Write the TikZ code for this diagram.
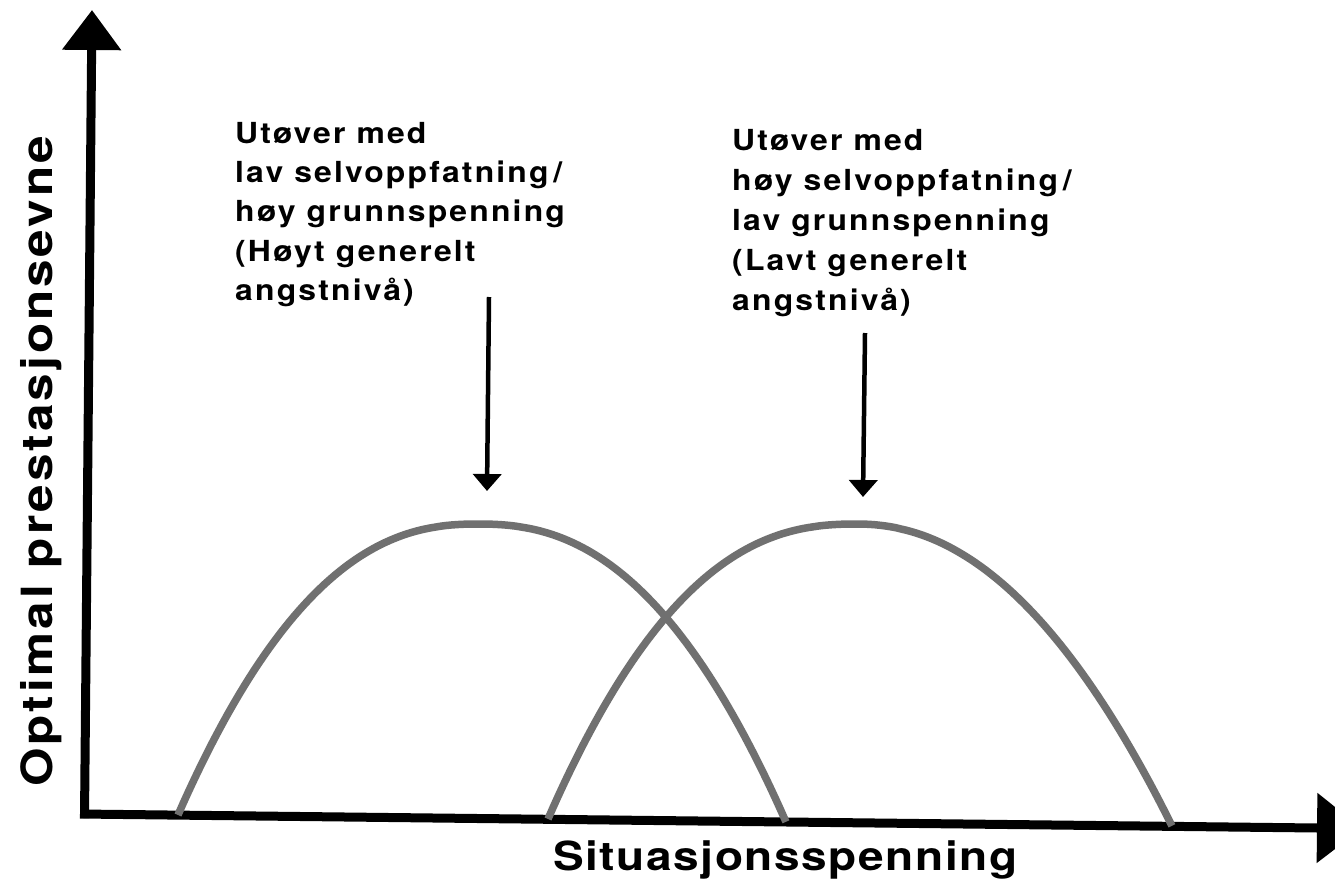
\documentclass[tikz,border=0pt]{standalone}
\usepackage{fontspec}
\usetikzlibrary{arrows.meta}
\newfontfamily\annfont[FakeStretch=1.1,LetterSpace=7.5]{TeX Gyre Heros}
\newfontfamily\axfont[FakeStretch=1.15,LetterSpace=7]{TeX Gyre Heros}
\newfontfamily\xfont[FakeStretch=1.15,LetterSpace=4]{TeX Gyre Heros}
\definecolor{curvegray}{RGB}{112,112,112}
\begin{document}
\begin{tikzpicture}[x=1pt,y=-1pt,
  axis/.style={line width=9pt},
  curve/.style={line width=7.5pt, draw=curvegray},
  pointer/.style={line width=4.5pt,-{Triangle[length=17pt 0 0,width=28pt 0 0]}},
  ann/.style={inner sep=0pt, align=left, anchor=north west},
  axlab/.style={inner sep=0pt},
]
\useasboundingbox (0,0) rectangle (1335,891);
\fill[white] (0,0) rectangle (1335,891);
% axes
\coordinate (yb) at (84.5,818);
\coordinate (yt) at (92,10);
\draw[axis,-{Triangle[length=40pt 0 0,width=57pt 0 0]}] (yb) -- (yt);
\coordinate (xl) at (80,814);
\coordinate (xr) at (1362,828.5);
\draw[axis,-{Triangle[length=45pt 0 0,width=68pt 0 0]}] (xl) -- (xr);
% curves
\draw[curve] plot[domain=1:0.005,samples=60] ({478-300*\x},{524+291*\x^2.35})
  -- plot[domain=0.005:1,samples=60] ({478+308*\x},{524+298*\x^2.35});
\draw[curve] plot[domain=1:0.005,samples=60] ({857-309*\x},{524+295*\x^2.4})
  -- plot[domain=0.005:1,samples=60] ({857+315*\x},{524+302*\x^2.1});
% annotations
\node[ann, font=\annfont\bfseries\fontsize{29}{39.3}\selectfont] (t1) at (235,122)
  {Utøver med\\lav selvoppfatning\,/\\høy grunnspenning\\(Høyt generelt\\angstnivå)};
\node[ann, font=\annfont\bfseries\fontsize{29}{40}\selectfont] (t2) at (732,129)
  {Utøver med\\høy selvoppfatning\,/\\lav grunnspenning\\(Lavt generelt\\angstnivå)};
% pointers
\coordinate (a1s) at (489,297);
\coordinate (a1e) at (487,491);
\draw[pointer] (a1s) -- (a1e);
\coordinate (a2s) at (865,333);
\coordinate (a2e) at (863,497);
\draw[pointer] (a2s) -- (a2e);
% axis labels
\node[axlab, anchor=base west, font=\xfont\bfseries\fontsize{40}{48}\selectfont] (xlab) at (553,870) {Situasjonsspenning};
\node[axlab, rotate=90, anchor=base west, font=\axfont\bfseries\fontsize{43}{50}\selectfont] (ylab) at (52,787) {Optimal prestasjonsevne};
\end{tikzpicture}
\end{document}
